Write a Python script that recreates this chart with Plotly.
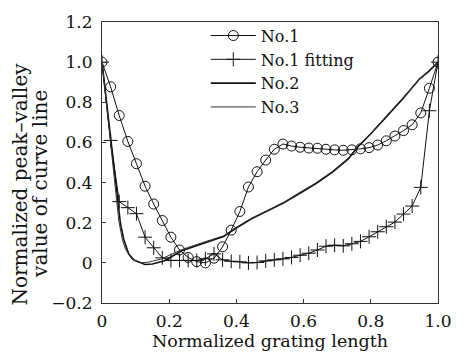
import plotly.graph_objects as go

# ---- data ----
n1_x = [i / 39 for i in range(40)]
n1_y = [1.0, 0.877, 0.734, 0.605, 0.494, 0.382, 0.293, 0.211, 0.128, 0.064,
        0.027, 0.006, 0.0, 0.023, 0.080, 0.163, 0.256, 0.378, 0.454, 0.512,
        0.566, 0.592, 0.582, 0.576, 0.572, 0.571, 0.566, 0.563, 0.561, 0.563,
        0.568, 0.574, 0.587, 0.608, 0.632, 0.659, 0.688, 0.747, 0.870, 1.0]

fit_x = [i / 39 for i in range(40)]
fit_y = [1.0, 0.61, 0.305, 0.275, 0.245, 0.128, 0.075, 0.025, 0.012, 0.012,
         0.012, 0.012, 0.02, 0.045, 0.015, 0.008, 0.005, 0.0, 0.002, 0.01,
         0.015, 0.02, 0.027, 0.038, 0.048, 0.064, 0.083, 0.088, 0.085, 0.095,
         0.107, 0.13, 0.155, 0.18, 0.203, 0.243, 0.283, 0.376, 0.758, 1.0]

n2_x = [0.0, 0.017, 0.027, 0.041, 0.055, 0.065, 0.08, 0.095, 0.109, 0.128,
        0.15, 0.186, 0.237, 0.305, 0.362, 0.397, 0.445, 0.493, 0.541, 0.589,
        0.637, 0.685, 0.733, 0.762, 0.8, 0.848, 0.896, 0.944, 0.973, 1.0]
n2_y = [1.0, 0.755, 0.595, 0.403, 0.195, 0.115, 0.043, 0.014, 0.003, -0.008,
        -0.006, 0.011, 0.06, 0.1, 0.131, 0.171, 0.219, 0.259, 0.299, 0.347,
        0.395, 0.451, 0.518, 0.579, 0.643, 0.731, 0.819, 0.915, 0.955, 1.0]

n3_x = [0.0, 0.015, 0.025, 0.038, 0.05, 0.06, 0.07, 0.089, 0.105, 0.118,
        0.14, 0.176, 0.237, 0.305, 0.362, 0.397, 0.445, 0.493, 0.541, 0.589,
        0.637, 0.685, 0.733, 0.762, 0.8, 0.848, 0.896, 0.944, 0.973, 1.0]
n3_y = [1.0, 0.76, 0.6, 0.41, 0.21, 0.12, 0.067, 0.019, 0.006, 0.0,
        0.004, 0.019, 0.066, 0.104, 0.135, 0.174, 0.223, 0.262, 0.302, 0.351,
        0.399, 0.455, 0.522, 0.583, 0.645, 0.734, 0.822, 0.912, 0.952, 1.0]

x_ticks = [0, 0.2, 0.4, 0.6, 0.8, 1.0]
x_ticktext = ["0", "0.2", "0.4", "0.6", "0.8", "1.0"]
y_ticks = [-0.2, 0, 0.2, 0.4, 0.6, 0.8, 1.0, 1.2]
y_ticktext = ["\u22120.2", "0", "0.2", "0.4", "0.6", "0.8", "1.0", "1.2"]
y_title_lines = ["Normalized peak\u2013valley", "value of curve line"]

FONT = "DejaVu Serif"
INK = "#111111"

fig = go.Figure()
fig.add_trace(go.Scatter(
    x=n1_x, y=n1_y, name="No.1", mode="lines+markers",
    line=dict(color=INK, width=1),
    marker=dict(symbol="circle-open", size=10, color=INK, line=dict(width=1, color=INK))))
fig.add_trace(go.Scatter(
    x=fit_x, y=fit_y, name="No.1 fitting", mode="lines+markers",
    line=dict(color=INK, width=1),
    marker=dict(symbol="cross-thin-open", size=10, color=INK, line=dict(width=1, color=INK))))
fig.add_trace(go.Scatter(
    x=n2_x, y=n2_y, name="No.2", mode="lines",
    line=dict(color=INK, width=1.6)))
fig.add_trace(go.Scatter(
    x=n3_x, y=n3_y, name="No.3", mode="lines",
    line=dict(color="#333333", width=1)))

axis_common = dict(
    showgrid=False, zeroline=False, showline=True, linecolor="#333333", linewidth=1,
    mirror=True, ticks="inside", ticklen=4, tickcolor="#333333",
    tickfont=dict(family=FONT, size=17, color=INK),
)
fig.update_xaxes(range=[0, 1.0], tickvals=x_ticks, ticktext=x_ticktext,
                 ticklabelstandoff=3,
                 title=dict(text="Normalized grating length",
                            font=dict(family=FONT, size=17.5, color=INK), standoff=0),
                 **axis_common)
fig.update_yaxes(range=[-0.2, 1.2], tickvals=y_ticks, ticktext=y_ticktext,
                 ticklabelstandoff=5, **axis_common)

# two-line rotated y title (each line placed separately for tighter leading)
for txt, xpx in zip(y_title_lines, [17, 38]):
    fig.add_annotation(
        text=txt, textangle=-90, xref="paper", yref="paper",
        x=(xpx - 102) / 347, y=0.424,
        xanchor="center", yanchor="middle", showarrow=False,
        font=dict(family=FONT, size=20, color=INK))

fig.update_layout(
    width=464, height=356,
    margin=dict(l=102, r=15, t=14, b=50),
    paper_bgcolor="white", plot_bgcolor="white",
    showlegend=True,
    legend=dict(x=0.309, y=1.012, xanchor="left", yanchor="top",
                bgcolor="rgba(0,0,0,0)", borderwidth=0,
                font=dict(family=FONT, size=16, color=INK),
                itemwidth=45, tracegroupgap=0),
)

fig.write_html("out.html")
